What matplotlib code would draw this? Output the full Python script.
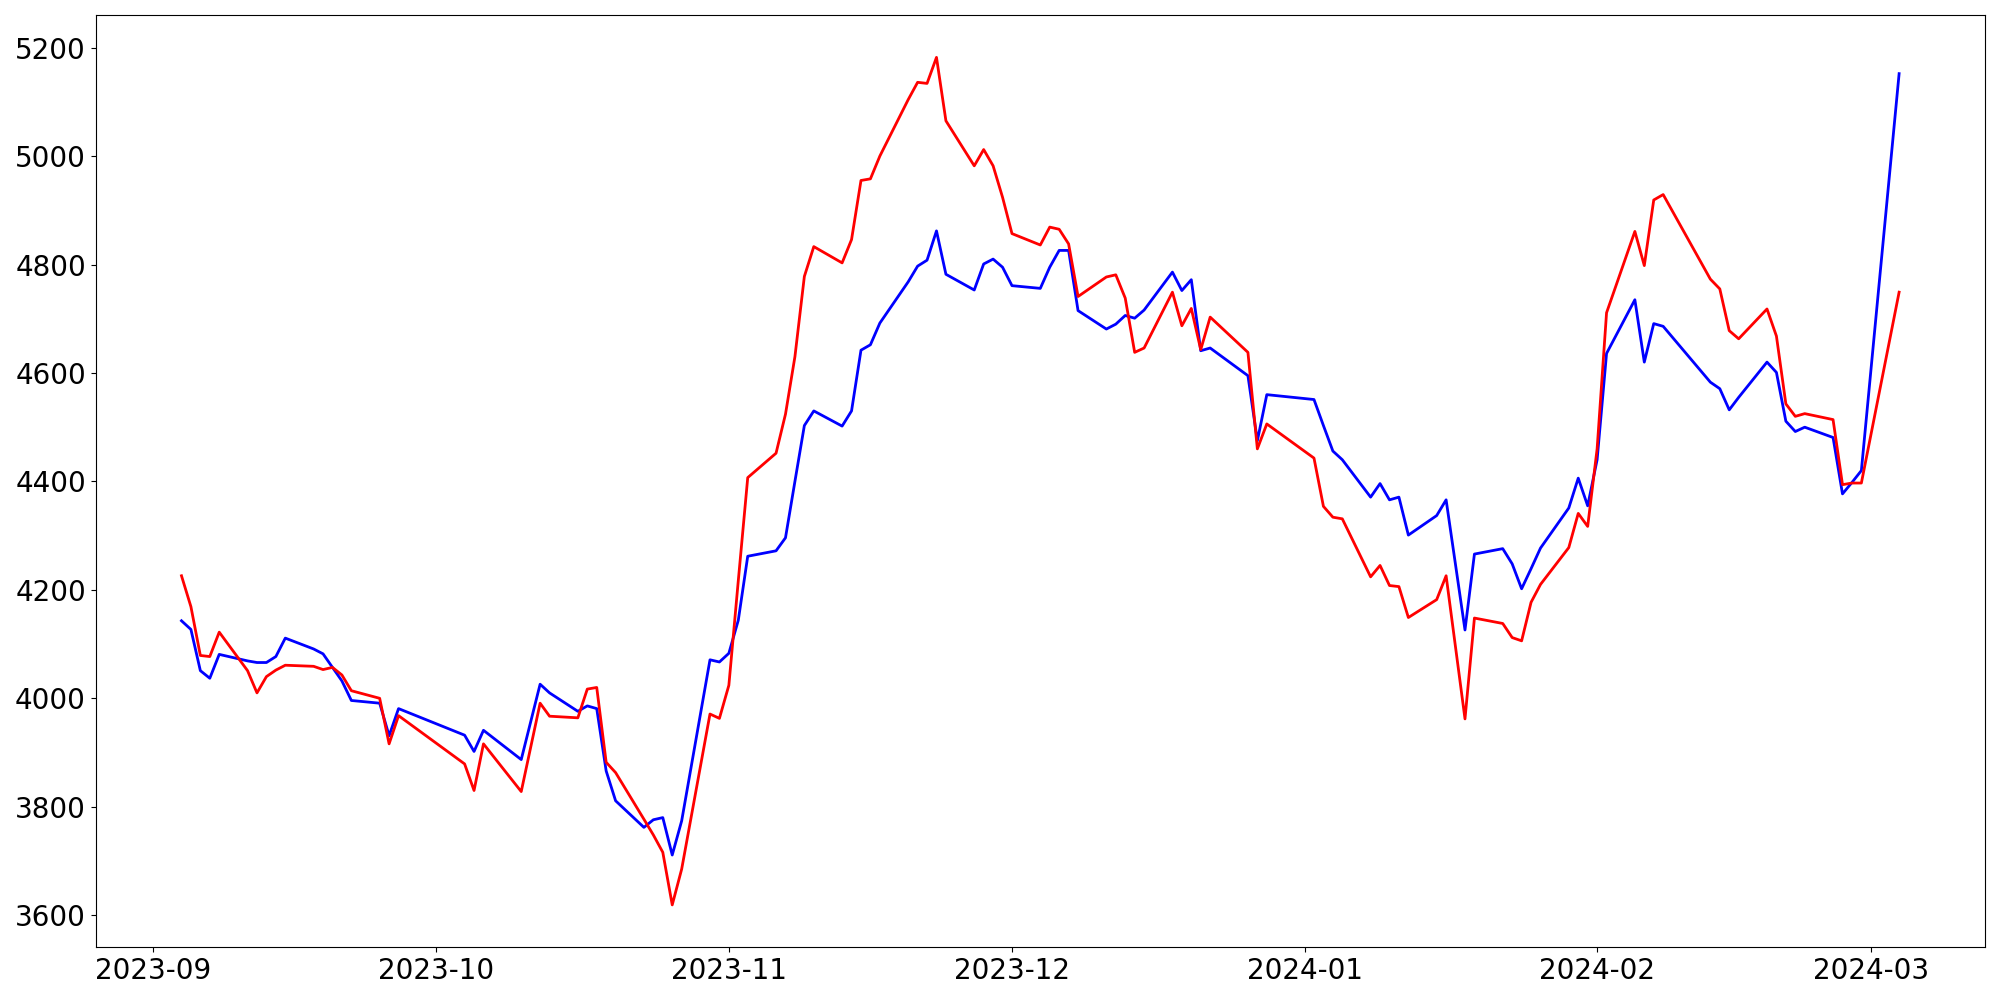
import matplotlib
matplotlib.use("Agg")
import matplotlib.pyplot as plt
import pandas as pd

# trading days (gaps = holidays)
dates = pd.to_datetime([
    "2023-09-04", "2023-09-05", "2023-09-06", "2023-09-07", "2023-09-08",
    "2023-09-11", "2023-09-12", "2023-09-13", "2023-09-14", "2023-09-15",
    "2023-09-18", "2023-09-19", "2023-09-20", "2023-09-21", "2023-09-22",
    "2023-09-25", "2023-09-26", "2023-09-27",
    "2023-10-04", "2023-10-05", "2023-10-06", "2023-10-10", "2023-10-12", "2023-10-13",
    "2023-10-16", "2023-10-17", "2023-10-18", "2023-10-19", "2023-10-20",
    "2023-10-23", "2023-10-24", "2023-10-25", "2023-10-26", "2023-10-27",
    "2023-10-30", "2023-10-31",
    "2023-11-01", "2023-11-02", "2023-11-03",
    "2023-11-06", "2023-11-07", "2023-11-08", "2023-11-09", "2023-11-10",
    "2023-11-13", "2023-11-14", "2023-11-15", "2023-11-16", "2023-11-17",
    "2023-11-20", "2023-11-21", "2023-11-22", "2023-11-23", "2023-11-24",
    "2023-11-27", "2023-11-28", "2023-11-29", "2023-11-30",
    "2023-12-01", "2023-12-04", "2023-12-05", "2023-12-06", "2023-12-07", "2023-12-08",
    "2023-12-11", "2023-12-12", "2023-12-13", "2023-12-14", "2023-12-15",
    "2023-12-18", "2023-12-19", "2023-12-20", "2023-12-21", "2023-12-22",
    "2023-12-26", "2023-12-27", "2023-12-28",
    "2024-01-02", "2024-01-03", "2024-01-04", "2024-01-05",
    "2024-01-08", "2024-01-09", "2024-01-10", "2024-01-11", "2024-01-12",
    "2024-01-15", "2024-01-16", "2024-01-17", "2024-01-18", "2024-01-19",
    "2024-01-22", "2024-01-23", "2024-01-24", "2024-01-25", "2024-01-26",
    "2024-01-29", "2024-01-30", "2024-01-31",
    "2024-02-01", "2024-02-02", "2024-02-05", "2024-02-06", "2024-02-07", "2024-02-08",
    "2024-02-13", "2024-02-14", "2024-02-15", "2024-02-16",
    "2024-02-19", "2024-02-20", "2024-02-21", "2024-02-22", "2024-02-23",
    "2024-02-26", "2024-02-27", "2024-02-28", "2024-02-29",
    "2024-03-04",
])

blue_vals = [
    4143, 4127, 4051, 4037, 4081,
    4069, 4066, 4066, 4077, 4111,
    4091, 4082, 4057, 4032, 3996,
    3991, 3931, 3981,
    3932, 3902, 3941, 3887, 4026, 4010,
    3976, 3986, 3981, 3866, 3811,
    3762, 3776, 3780, 3711, 3774,
    4071, 4067,
    4083, 4144, 4262,
    4272, 4296, 4400, 4503, 4530,
    4502, 4530, 4642, 4652, 4692,
    4768, 4797, 4808, 4862, 4782,
    4753, 4801, 4810, 4795,
    4761, 4756, 4795, 4826, 4826, 4715,
    4681, 4690, 4706, 4701, 4716,
    4786, 4752, 4772, 4641, 4646,
    4595, 4475, 4560,
    4551, 4503, 4456, 4440,
    4371, 4396, 4366, 4371, 4301,
    4337, 4366, 4246, 4126, 4266,
    4276, 4248, 4202, 4239, 4277,
    4351, 4406, 4355,
    4440, 4636, 4735, 4620, 4691, 4686,
    4583, 4571, 4532, 4555,
    4620, 4601, 4511, 4492, 4500,
    4481, 4377, 4398, 4420,
    5152,
]

red_vals = [
    4226, 4169, 4079, 4077, 4122,
    4051, 4010, 4040, 4052, 4061,
    4059, 4053, 4057, 4043, 4014,
    4000, 3916, 3968,
    3879, 3830, 3916, 3828, 3991, 3967,
    3964, 4017, 4020, 3882, 3863,
    3777, 3748, 3716, 3619, 3685,
    3971, 3963,
    4024, 4217, 4407,
    4452, 4524, 4630, 4778, 4833,
    4803, 4846, 4955, 4958, 5000,
    5104, 5136, 5134, 5182, 5065,
    4982, 5012, 4982, 4924,
    4857, 4836, 4869, 4865, 4838, 4741,
    4777, 4781, 4738, 4638, 4646,
    4749, 4687, 4719, 4643, 4703,
    4638, 4460, 4506,
    4443, 4354, 4334, 4331,
    4224, 4245, 4208, 4206, 4149,
    4182, 4226, 4094, 3962, 4148,
    4138, 4112, 4106, 4177, 4210,
    4278, 4341, 4317,
    4460, 4711, 4861, 4798, 4919, 4929,
    4773, 4755, 4678, 4663,
    4718, 4668, 4543, 4520, 4525,
    4514, 4394, 4397, 4397,
    4749,
]

fig, ax = plt.subplots(figsize=(20, 10), dpi=100)
ax.plot(dates, blue_vals, color='blue', linewidth=2)
ax.plot(dates, red_vals, color='red', linewidth=2)
ax.tick_params(labelsize=20)

plt.tight_layout()
plt.savefig("out.png")
